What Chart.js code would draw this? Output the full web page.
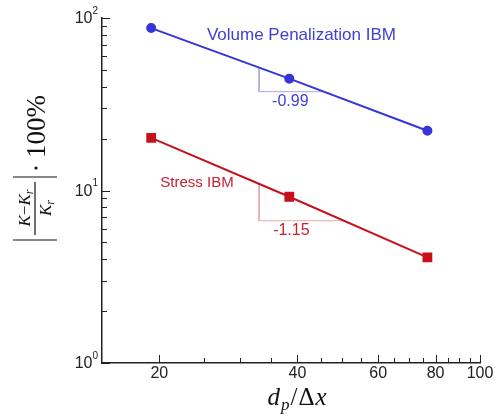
<!DOCTYPE html>
<html>
<head>
<meta charset="utf-8">
<script src="https://cdn.jsdelivr.net/npm/chart.js@4"></script>
<style>
  html, body { margin: 0; padding: 0; background: #fff; }
  #wrap { width: 499px; height: 417px; }
</style>
</head>
<body>
<div id="wrap"><canvas id="c" width="499" height="417"></canvas></div>
<script>
// grid resolution d_p/dx and relative error in percent
const resolution = [19.2, 38.4, 76.8];
const errVolume = [87.4, 44.5, 22.2];
const errStress = [20.2, 9.2, 4.1];

// slope triangles (corners in data units) and their labels
const triVolumeX = [33, 33, 45.7];
const triVolumeY = [51.6, 37.4, 37.4];
const triStressX = [33, 33, 50.5];
const triStressY = [10.93, 6.68, 6.68];
const slopeVolume = '-0.99';
const slopeStress = '-1.15';

const xTicks = [20, 25, 30, 35, 40, 45, 50, 55, 60, 65, 70, 75, 80, 85, 90, 95, 100];
const xLabels = [20, 40, 60, 80, 100];
const yTicks = [1, 2, 3, 4, 5, 6, 7, 8, 9, 10, 20, 30, 40, 50, 60, 70, 80, 90, 100];
const yLabels = [1, 10, 100];

const BLUE = '#3535d8';
const RED = '#c8101c';
const SANS = '"Liberation Sans", Arial, sans-serif';
const SERIF = '"Liberation Serif", "DejaVu Serif", serif';

const pts = (xs, ys) => xs.map((x, i) => ({ x: x, y: ys[i] }));

// draw a run of text pieces [{t, font, dy}] starting at x
function drawRuns(ctx, runs, x, y, align) {
  let w = 0;
  runs.forEach(r => { ctx.font = r.font; w += ctx.measureText(r.t).width + (r.gap || 0); });
  let cx = align === 'center' ? x - w / 2 : x;
  ctx.textAlign = 'left';
  runs.forEach(r => {
    ctx.font = r.font;
    ctx.fillText(r.t, cx, y + (r.dy || 0));
    cx += ctx.measureText(r.t).width + (r.gap || 0);
  });
  return w;
}

const decorations = {
  id: 'decorations',
  afterDraw(chart) {
    const ctx = chart.ctx;
    const xs = chart.scales.x, ys = chart.scales.y;
    const area = chart.chartArea;
    ctx.save();

    // inward tick marks
    ctx.strokeStyle = '#222';
    ctx.lineWidth = 1;
    ctx.beginPath();
    xTicks.forEach(v => {
      const px = Math.round(xs.getPixelForValue(v)) + 0.5;
      const len = xLabels.includes(v) ? 8 : 5;
      ctx.moveTo(px, area.bottom);
      ctx.lineTo(px, area.bottom - len);
    });
    yTicks.forEach(v => {
      const py = Math.round(ys.getPixelForValue(v)) + 0.5;
      const len = yLabels.includes(v) ? 8 : 5;
      ctx.moveTo(area.left, py);
      ctx.lineTo(area.left + len, py);
    });
    ctx.stroke();

    // y tick labels 10^n
    ctx.fillStyle = '#222';
    ctx.textBaseline = 'middle';
    yLabels.forEach(v => {
      const py = ys.getPixelForValue(v);
      const exp = String(Math.round(Math.log10(v)));
      ctx.font = '10px ' + SANS;
      const ew = ctx.measureText(exp).width;
      ctx.textAlign = 'right';
      ctx.fillText(exp, area.left - 4, py - 7);
      ctx.font = '16px ' + SANS;
      ctx.fillText('10', area.left - 4 - ew, py + 1);
    });

    // x axis title
    ctx.fillStyle = '#111';
    ctx.textBaseline = 'alphabetic';
    drawRuns(ctx, [
      { t: 'd', font: 'italic 25px ' + SERIF, gap: 1 },
      { t: 'p', font: 'italic 17px ' + SERIF, dy: 5, gap: 1 },
      { t: '/', font: '25px ' + SERIF, gap: 1 },
      { t: 'Δ', font: '25px ' + SERIF, gap: 1 },
      { t: 'x', font: 'italic 25px ' + SERIF }
    ], 297, 405, 'center');

    // y axis title, rotated
    ctx.save();
    ctx.translate(35, 168);
    ctx.rotate(-Math.PI / 2);
    ctx.strokeStyle = '#111';
    ctx.lineWidth = 1.2;
    ctx.beginPath();
    ctx.moveTo(-72, -22); ctx.lineTo(-72, 22);
    ctx.moveTo(-9, -22); ctx.lineTo(-9, 22);
    ctx.moveTo(-67, 0); ctx.lineTo(-14, 0);
    ctx.stroke();
    drawRuns(ctx, [
      { t: 'K', font: 'italic 17px ' + SERIF },
      { t: '−', font: '17px ' + SERIF },
      { t: 'K', font: 'italic 17px ' + SERIF },
      { t: 'r', font: 'italic 12px ' + SERIF, dy: 3 }
    ], -40, -5, 'center');
    drawRuns(ctx, [
      { t: 'K', font: 'italic 17px ' + SERIF },
      { t: 'r', font: 'italic 12px ' + SERIF, dy: 3 }
    ], -40, 16, 'center');
    ctx.beginPath();
    ctx.arc(0, 1, 1.6, 0, Math.PI * 2);
    ctx.fill();
    drawRuns(ctx, [{ t: '100%', font: '27px ' + SERIF }], 10, 10, 'left');
    ctx.restore();

    // series and slope labels
    ctx.textBaseline = 'middle';
    ctx.textAlign = 'left';
    ctx.font = '17px ' + SANS;
    ctx.fillStyle = '#4040d0';
    ctx.fillText('Volume Penalization IBM', xs.getPixelForValue(25.4), ys.getPixelForValue(79));
    ctx.textAlign = 'center';
    ctx.font = '16px ' + SANS;
    ctx.fillText(slopeVolume, xs.getPixelForValue(38.6), ys.getPixelForValue(32.6));
    ctx.fillStyle = '#c82030';
    ctx.textAlign = 'left';
    ctx.font = '15px ' + SANS;
    ctx.fillText('Stress IBM', xs.getPixelForValue(20.1), ys.getPixelForValue(11.1));
    ctx.textAlign = 'center';
    ctx.font = '16px ' + SANS;
    ctx.fillText(slopeStress, xs.getPixelForValue(38.8), ys.getPixelForValue(5.85));
    ctx.restore();
  }
};

new Chart(document.getElementById('c'), {
  type: 'line',
  data: {
    datasets: [
      {
        data: pts(triVolumeX, triVolumeY),
        borderColor: '#a8a8e6', borderWidth: 1, pointRadius: 0, order: 3
      },
      {
        data: pts(triStressX, triStressY),
        borderColor: '#e4a8ac', borderWidth: 1, pointRadius: 0, order: 3
      },
      {
        label: 'Volume Penalization IBM',
        data: pts(resolution, errVolume),
        borderColor: BLUE, backgroundColor: BLUE, borderWidth: 2,
        pointStyle: 'circle', pointRadius: 4, clip: false, order: 1
      },
      {
        label: 'Stress IBM',
        data: pts(resolution, errStress),
        borderColor: RED, backgroundColor: RED, borderWidth: 2,
        pointStyle: 'rect', pointRadius: 5.5, clip: false, order: 1
      }
    ]
  },
  options: {
    responsive: false,
    animation: false,
    layout: { padding: { top: 18, right: 19, left: 0, bottom: 0 } },
    plugins: { legend: { display: false }, tooltip: { enabled: false } },
    scales: {
      x: {
        type: 'logarithmic',
        min: 15, max: 100,
        afterBuildTicks: s => { s.ticks = xTicks.map(v => ({ value: v, major: xLabels.includes(v) })); },
        afterFit: s => { s.height = 54; },
        grid: { display: false, drawTicks: false },
        border: { display: true, color: '#222', width: 1.5 },
        ticks: {
          autoSkip: false, maxRotation: 0, padding: 1,
          color: '#222', font: { family: SANS, size: 16 },
          callback: v => xLabels.includes(v) ? String(v) : ''
        }
      },
      y: {
        type: 'logarithmic',
        min: 1, max: 100,
        afterBuildTicks: s => { s.ticks = yTicks.map(v => ({ value: v })); },
        afterFit: s => { s.width = 102; },
        grid: { display: false, drawTicks: false },
        border: { display: true, color: '#222', width: 1.5 },
        ticks: { display: false }
      }
    }
  },
  plugins: [decorations]
});
</script>
</body>
</html>
